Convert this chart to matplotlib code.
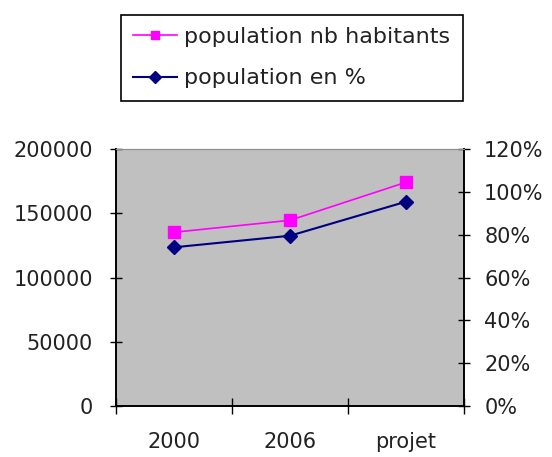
import matplotlib.pyplot as plt
from matplotlib.ticker import FixedLocator, PercentFormatter

categories = ['2000', '2006', 'projet']
habitants = [135200, 144500, 174100]
pourcent = [0.741, 0.795, 0.954]

plt.rcParams['font.family'] = ['DejaVu Sans']

fig = plt.figure(figsize=(5.52, 4.57), dpi=100)
ax = fig.add_axes([116 / 552, 51 / 457, 348 / 552, 257 / 457])
ax.set_facecolor('#c0c0c0')
x = list(range(len(categories)))

l1, = ax.plot(x, habitants, color='#ff00ff', marker='s', markersize=9, lw=1.2,
              label='population nb habitants')
ax.set_xlim(-0.5, len(categories) - 0.5)
ax.set_ylim(0, 200000)
ax.set_yticks([0, 50000, 100000, 150000, 200000])
ax.tick_params(axis='y', direction='inout', length=9, width=1, labelsize=15, pad=12,
               colors='black', labelcolor='#222222')

# x ticks at category edges, labels at centres
ax.xaxis.set_major_locator(FixedLocator([i - 0.5 for i in range(len(categories) + 1)]))
ax.xaxis.set_major_formatter(plt.NullFormatter())
ax.xaxis.set_minor_locator(FixedLocator(x))
ax.set_xticklabels(categories, minor=True)
ax.tick_params(axis='x', which='major', direction='inout', length=12, width=1)
ax.tick_params(axis='x', which='minor', length=0, labelsize=15, pad=19, labelcolor='#222222')

ax2 = ax.twinx()
l2, = ax2.plot(x, pourcent, color='#000080', marker='D', markersize=7, lw=1.5,
               label='population en %')
ax2.set_ylim(0, 1.2)
ax2.set_yticks([0, 0.2, 0.4, 0.6, 0.8, 1.0, 1.2])
ax2.yaxis.set_major_formatter(PercentFormatter(1.0, decimals=0))
ax2.tick_params(axis='y', direction='inout', length=9, width=1, labelsize=15, pad=10,
                labelcolor='#222222')

for a in (ax, ax2):
    a.spines['top'].set_color('#909090')
    a.spines['left'].set_linewidth(1.2)
    a.spines['right'].set_linewidth(1.2)
    a.spines['bottom'].set_linewidth(1.2)

leg = fig.legend(handles=[l1, l2], loc='upper left',
                 bbox_to_anchor=(121 / 552, 1 - 15 / 457), fontsize=16,
                 frameon=True, fancybox=False, edgecolor='black', framealpha=1,
                 handlelength=1.95, handletextpad=0.35, borderpad=0.55,
                 labelspacing=0.95, borderaxespad=0)
leg.get_frame().set_linewidth(1.2)
for t in leg.get_texts():
    t.set_color('#222222')
for h in leg.legend_handles:
    h.set_markersize(6)

fig.savefig('out.png', dpi=100)
